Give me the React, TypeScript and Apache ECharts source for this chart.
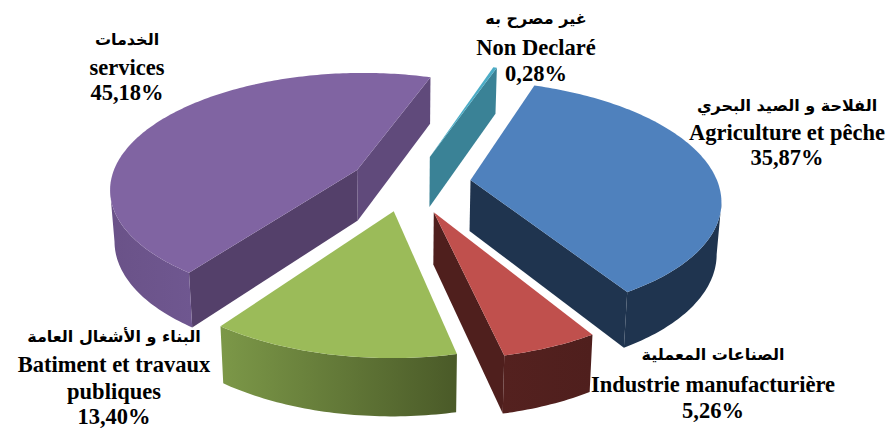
import React, { useEffect, useRef } from "react";
import * as echarts from "echarts";

// ---- data, clockwise from the blue slice
const arabicNames = ["الفلاحة و الصيد البحري", "الصناعات المعملية", "البناء و الأشغال العامة", "الخدمات", "غير مصرح به"];
const frenchNames = [["Agriculture et pêche"], ["Industrie manufacturière"], ["Batiment et travaux", "publiques"], ["services"], ["Non Declaré"]];
const percentLabels = ["35,87%", "5,26%", "13,40%", "45,18%", "0,28%"];
const shares = [35.87, 5.26, 13.4, 45.18, 0.28];

// ---- styles
const topColors = ["#4F81BD", "#C0504D", "#9BBB59", "#8064A2", "#4BACC6"];
const cutColors = ["#1F344F", "#4F1F1D", "#4F5F2C", "#54406A", "#3A8296"];
const cutColorsEnd = ["#1F344F", "#4F1F1D", "#4F5F2C", "#604A7B", "#3A8296"];
const arcLeft = ["#1F344F", "#54211F", "#7C9848", "#6A5288", "#3A8296"];
const arcRight = ["#1F344F", "#4F1F1D", "#4A5A28", "#6F5790", "#3A8296"];

// ---- 3D projection of the pie
const CX = 404, CY = 182, RX = 247, RY = 115, PERSP = 0.15, DEPTH = 51, START_DEG = 19.5, CONVERGE = 0.985;
const explode: [number, number][] = [[0.27, 0.017], [0.116, -0.253], [-0.04, -0.245], [-0.193, 0.106], [0.108, 0.225]];

// ---- label layout: centre x, then the centre y of each line
const labelLayout = [
  { x: 787, ys: [105, 132, 157] },
  { x: 713, ys: [354, 384, 410] },
  { x: 114, ys: [336, 364, 391, 416] },
  { x: 127, ys: [39, 67, 92] },
  { x: 536, ys: [18, 47, 73] },
];

const total = shares.reduce((a, b) => a + b, 0);
type P = { x: number; y: number; z: number };
const project = (u: number, v: number): P => {
  const d = 1 + PERSP * v;
  return { x: CX + (RX * u) / d, y: CY - (RY * v) / d, z: DEPTH / Math.pow(d, 0.65) };
};

function renderItem(params: any, api: any) {
  const i = params.dataIndex;
  const before = shares.slice(0, i).reduce((a, b) => a + b, 0);
  const a0 = START_DEG + (before / total) * 360;
  const a1 = a0 + (api.value(0) / total) * 360;
  const [eu, ev] = explode[i];
  const apex = project(eu, ev);
  const arc: P[] = [];
  const steps = Math.max(2, Math.ceil(a1 - a0));
  for (let s = 0; s <= steps; s++) {
    const t = ((a0 + ((a1 - a0) * s) / steps) * Math.PI) / 180;
    arc.push(project(eu + Math.sin(t), ev + Math.cos(t)));
  }
  const children: any[] = [];
  const wall = (pts: P[], fill: any) => {
    const poly = [
      ...pts.map((p) => [p.x, p.y]),
      ...pts.slice().reverse().map((p) => [CX + (p.x - CX) * CONVERGE, p.y + p.z]),
    ];
    children.push({ type: "polygon", shape: { points: poly }, style: { fill, stroke: "none" } });
  };
  if (arc[0].x < apex.x) wall([apex, arc[0]], cutColors[i]);
  const last = arc[arc.length - 1];
  if (apex.x < last.x) wall([last, apex], cutColorsEnd[i]);
  let run: P[] = [];
  const flush = () => {
    if (run.length > 1) {
      wall(run, new echarts.graphic.LinearGradient(0, 0, 1, 0, [
        { offset: 0, color: arcLeft[i] },
        { offset: 1, color: arcRight[i] },
      ]));
    }
    run = [];
  };
  for (let s = 0; s < arc.length - 1; s++) {
    if (arc[s + 1].x < arc[s].x) {
      if (!run.length) run.push(arc[s]);
      run.push(arc[s + 1]);
    } else flush();
  }
  flush();
  children.push({
    type: "polygon",
    shape: { points: [apex, ...arc].map((p) => [p.x, p.y]) },
    style: { fill: topColors[i], stroke: "none" },
  });
  return { type: "group", children };
}

const textLine = (text: string, x: number, y: number, arabic: boolean) => ({
  type: "text",
  x,
  y,
  silent: true,
  style: {
    text,
    align: "center",
    verticalAlign: "middle",
    textAlign: "center",
    textVerticalAlign: "middle",
    fill: "#000000",
    font: arabic ? 'bold 16px "DejaVu Sans"' : 'bold 22.5px "Liberation Serif"',
  },
});

const labelElements = labelLayout.flatMap((box, i) => {
  const lines = [arabicNames[i], ...frenchNames[i], percentLabels[i]];
  return lines.map((line, k) => textLine(line, box.x, box.ys[k], k === 0));
});

export default function App() {
  const ref = useRef<HTMLDivElement>(null);
  useEffect(() => {
    const chart = echarts.init(ref.current!, null, { renderer: "svg" });
    chart.setOption({
      animation: false,
      backgroundColor: "#ffffff",
      series: [
        {
          type: "custom",
          coordinateSystem: "none",
          renderItem,
          silent: true,
          data: shares.map((v) => [v]),
        },
      ],
      graphic: { elements: labelElements },
    });
    return () => chart.dispose();
  }, []);
  return <div ref={ref} style={{ position: "absolute", left: 0, top: 0, width: 891, height: 431 }} />;
}
